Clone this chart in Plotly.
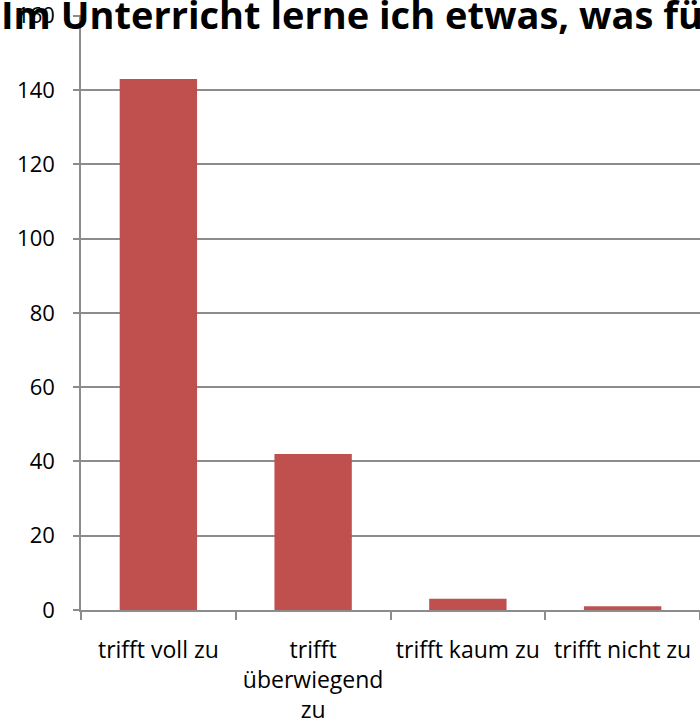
import plotly.graph_objects as go

categories = ["trifft voll zu", "trifft<br>überwiegend<br>zu", "trifft kaum zu", "trifft nicht zu"]
values = [143, 42, 3, 1]
title_text = "Im Unterricht lerne ich etwas, was für mein Leben wichtig ist."

W, H = 700, 724
ml, mr, mt, mb = 81, 0, 15, 114
pw = W - ml - mr
ph = H - mt - mb

fig = go.Figure(go.Bar(x=categories, y=values, marker=dict(color="#C0504D", line=dict(width=0))))

fig.update_layout(
    width=W, height=H,
    margin=dict(l=ml, r=mr, t=mt, b=mb, autoexpand=False),
    paper_bgcolor="white", plot_bgcolor="white",
    bargap=0.5,
    showlegend=False,
    font=dict(family="Open Sans", size=23, color="#000000"),
)
fig.update_xaxes(
    automargin=False,
    showline=True, linecolor="#8C8C8C", linewidth=1.5,
    ticks="outside", tickson="boundaries", ticklen=8, tickcolor="#8C8C8C", tickwidth=1.5,
    showgrid=False, tickangle=0,
    tickfont=dict(family="Open Sans", size=23, color="#000000"),
    ticklabelstandoff=19,
)
fig.update_yaxes(
    automargin=False,
    range=[0, 160.2], dtick=20, tick0=0,
    showline=True, linecolor="#8C8C8C", linewidth=1.5,
    showgrid=True, gridcolor="#8C8C8C", gridwidth=1.5,
    ticks="outside", ticklen=6, tickcolor="#8C8C8C", tickwidth=1.5,
    zeroline=False,
    tickfont=dict(family="Open Sans", size=22, color="#000000"),
    ticklabelstandoff=14,
    ticklabeloverflow="allow",
)

fig.add_annotation(
    text="<b>" + title_text + "</b>",
    xref="paper", yref="paper",
    x=(-1 - ml) / pw, y=(ph - (14 - mt)) / ph,
    xanchor="left", yanchor="middle",
    showarrow=False,
    font=dict(family="Open Sans", size=38, color="#000000"),
)

fig.write_html(
    "out.html",
    config={"displayModeBar": False},
    post_script="document.body.style.margin='0';document.body.style.overflow='hidden';document.documentElement.style.overflow='hidden';",
)
